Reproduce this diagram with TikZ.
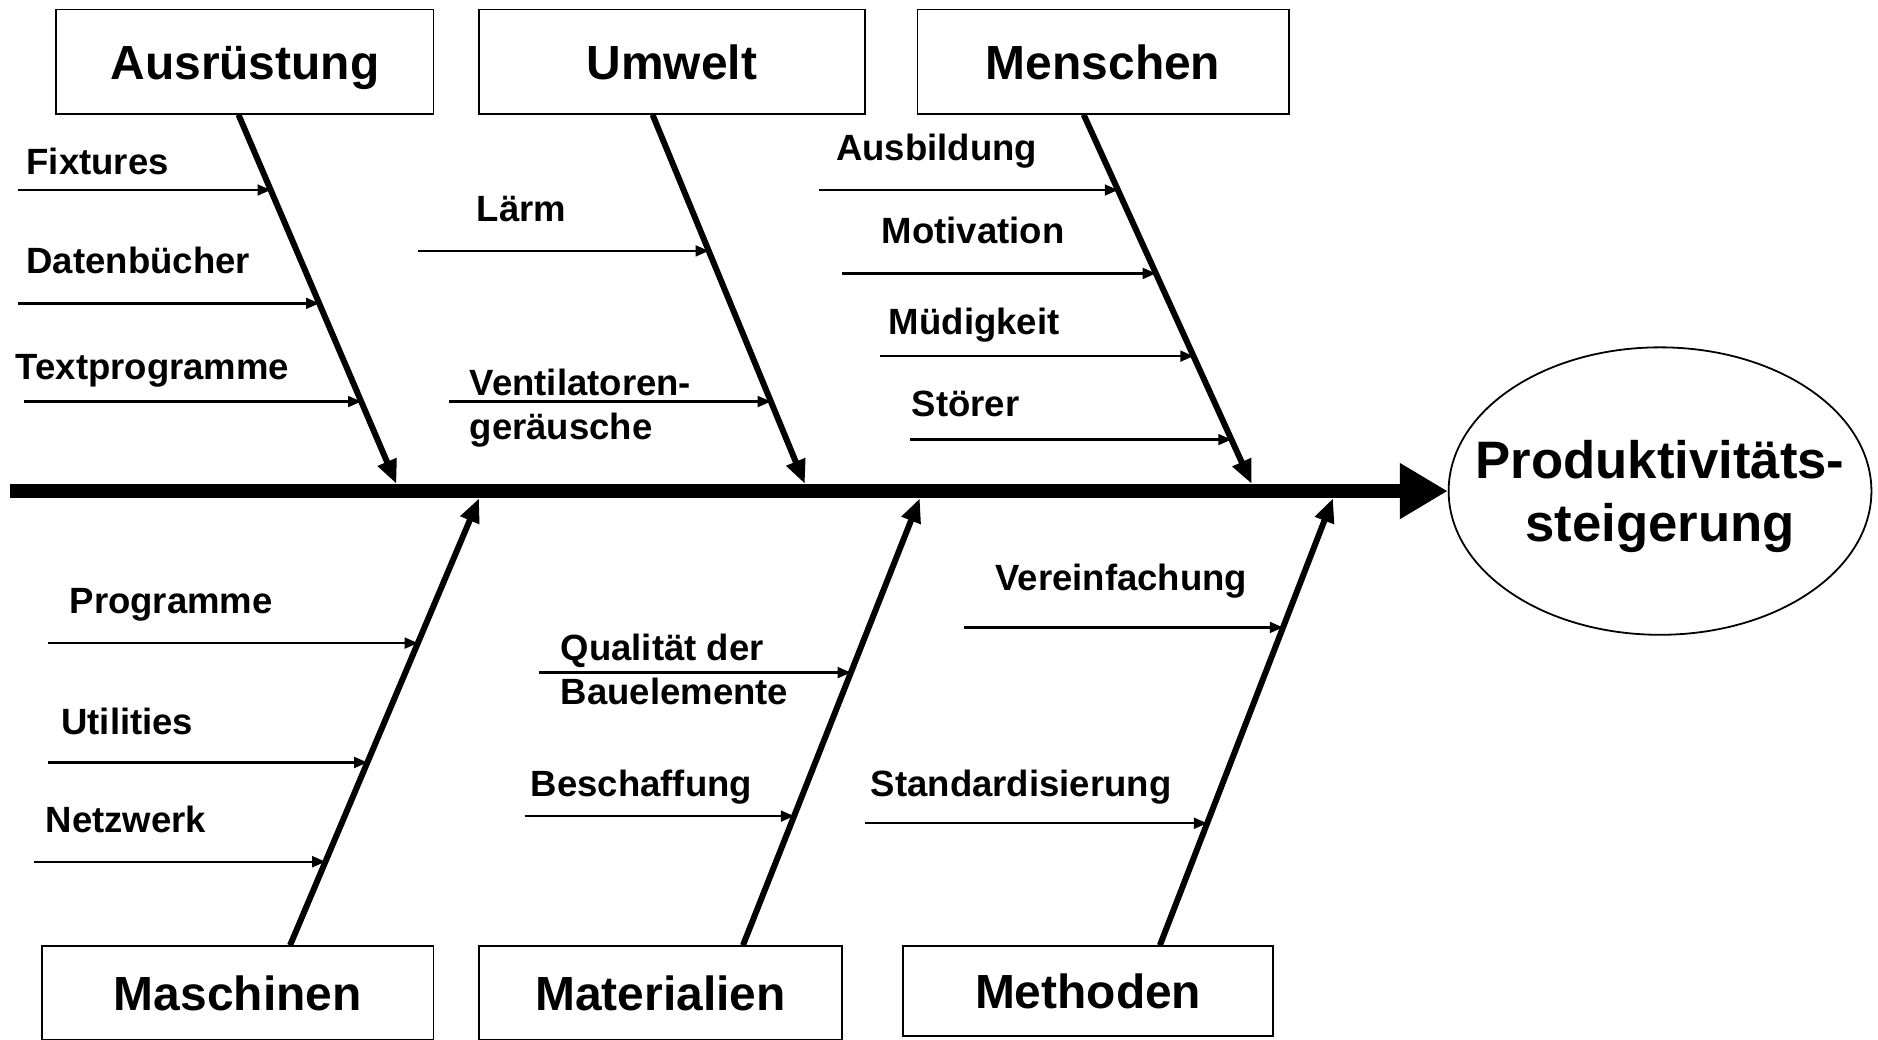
\documentclass[tikz,border=0pt]{standalone}
\usepackage{fontspec}
\setmainfont{Liberation Sans}
\usepackage{tikz}
\usetikzlibrary{positioning, arrows.meta, calc, shapes.geometric}

\begin{document}
\begin{tikzpicture}[x=1pt, y=-1pt,
    catbox/.style={draw, line width=1.5pt, inner sep=0pt, text height=29pt, text depth=0pt,
      font=\fontsize{40}{48}\selectfont\bfseries},
    cause/.style={anchor=base west, inner sep=0pt, align=left, font=\fontsize{30.5}{36.5}\selectfont\bfseries},
    branch/.style={line width=5pt, -{Triangle[length=20pt,width=16pt]}},
    subarrow/.style={line width=2pt, -{Triangle[length=11pt,width=9pt]}},
    spine/.style={line width=12pt, -{Triangle[length=40pt,width=44pt]}}]
    \useasboundingbox (0,0) rectangle (1568,868);

    % category boxes
    \node[catbox, minimum width=315pt, minimum height=87pt] (ausr) at (204.5,51.5) {Ausrüstung};
    \node[catbox, minimum width=322pt, minimum height=87pt] (umw) at (561,51.5) {Umwelt};
    \node[catbox, minimum width=310pt, minimum height=87pt] (mensch) at (921,51.5) {Menschen};
    \node[catbox, minimum width=327pt, minimum height=78pt] (masch) at (198.5,829) {Maschinen};
    \node[catbox, minimum width=303pt, minimum height=78pt] (mat) at (551.5,829) {Materialien};
    \node[catbox, minimum width=309pt, minimum height=75pt] (meth) at (908.5,827.5) {Methoden};

    % effect
    \node[ellipse, draw, line width=1.5pt, minimum width=353pt, minimum height=240pt, inner sep=0pt] (goal) at (1386,410) {};
    \node[align=center, inner sep=0pt, font=\fontsize{44}{52}\selectfont\bfseries] (goalText) at ([yshift=-4.5pt]goal.center)
          {Produktivitäts-\\steigerung};

    % spine
    \coordinate (tail) at (8,410);
    \draw[spine] (tail) -- (goal.west);

    % where the branches meet the spine
    \coordinate (ausrTip) at (331,404);
    \coordinate (umwTip) at (672,404);
    \coordinate (menschTip) at (1045,404);
    \coordinate (maschTip) at (400,416);
    \coordinate (matTip) at (768,416);
    \coordinate (methTip) at (1113,416);

    % branches
    \draw[branch] ($(ausr.south west)!0.483!(ausr.south east)$) -- (ausrTip)
      coordinate[pos=0.204] (fixE) coordinate[pos=0.511] (datE) coordinate[pos=0.777] (texE);
    \draw[branch] ($(umw.south west)!0.45!(umw.south east)$) -- (umwTip)
      coordinate[pos=0.369] (laeE) coordinate[pos=0.777] (venE);
    \draw[branch] ($(mensch.south west)!0.448!(mensch.south east)$) -- (menschTip)
      coordinate[pos=0.204] (ausbE) coordinate[pos=0.430] (motE)
      coordinate[pos=0.654] (muedE) coordinate[pos=0.880] (stoE);
    \draw[branch] ($(masch.north west)!0.633!(masch.north east)$) -- (maschTip)
      coordinate[pos=0.676] (progE) coordinate[pos=0.409] (utilE) coordinate[pos=0.187] (netzE);
    \draw[branch] ($(mat.north west)!0.726!(mat.north east)$) -- (matTip)
      coordinate[pos=0.610] (qualE) coordinate[pos=0.289] (beschE);
    \draw[branch] ($(meth.north west)!0.693!(meth.north east)$) -- (methTip)
      coordinate[pos=0.711] (vereE) coordinate[pos=0.273] (standE);

    % free ends of the cause arrows
    \coordinate (fixS) at (15,158);
    \coordinate (datS) at (15,253);
    \coordinate (texS) at (20,335);
    \coordinate (laeS) at (349,209);
    \coordinate (venS) at (375,335);
    \coordinate (ausbS) at (684,158);
    \coordinate (motS) at (703,228);
    \coordinate (muedS) at (735,297);
    \coordinate (stoS) at (760,367);
    \coordinate (progS) at (40,537);
    \coordinate (utilS) at (40,637);
    \coordinate (netzS) at (28,720);
    \coordinate (qualS) at (450,562);
    \coordinate (beschS) at (438,682);
    \coordinate (vereS) at (805,524);
    \coordinate (standS) at (722,688);

    \foreach \c in {fix,dat,tex,lae,ven,ausb,mot,mued,sto,prog,util,netz,qual,besch,vere,stand}
      \draw[subarrow] (\c E -| \c S) -- (\c E);

    % cause labels (base = last line)
    \node[cause] (fixL) at (22,146) {Fixtures};
    \node[cause] (datL) at (22,228) {Datenbücher};
    \node[cause] (texL) at (13,317) {Textprogramme};
    \node[cause] (laeL) at (398,185) {Lärm};
    \node[cause] (venL) at (392,367) {Ventilatoren-\\geräusche};
    \node[cause] (ausbL) at (698,134) {Ausbildung};
    \node[cause] (motL) at (736,203) {Motivation};
    \node[cause] (muedL) at (742,279) {Müdigkeit};
    \node[cause] (stoL) at (761,348) {Störer};
    \node[cause] (progL) at (58,512) {Programme};
    \node[cause] (utilL) at (51,613) {Utilities};
    \node[cause] (netzL) at (38,695) {Netzwerk};
    \node[cause] (qualL) at (468,588) {Qualität der\\Bauelemente};
    \node[cause] (beschL) at (443,665) {Beschaffung};
    \node[cause] (vereL) at (831,493) {Vereinfachung};
    \node[cause] (standL) at (727,665) {Standardisierung};
\end{tikzpicture}
\end{document}
